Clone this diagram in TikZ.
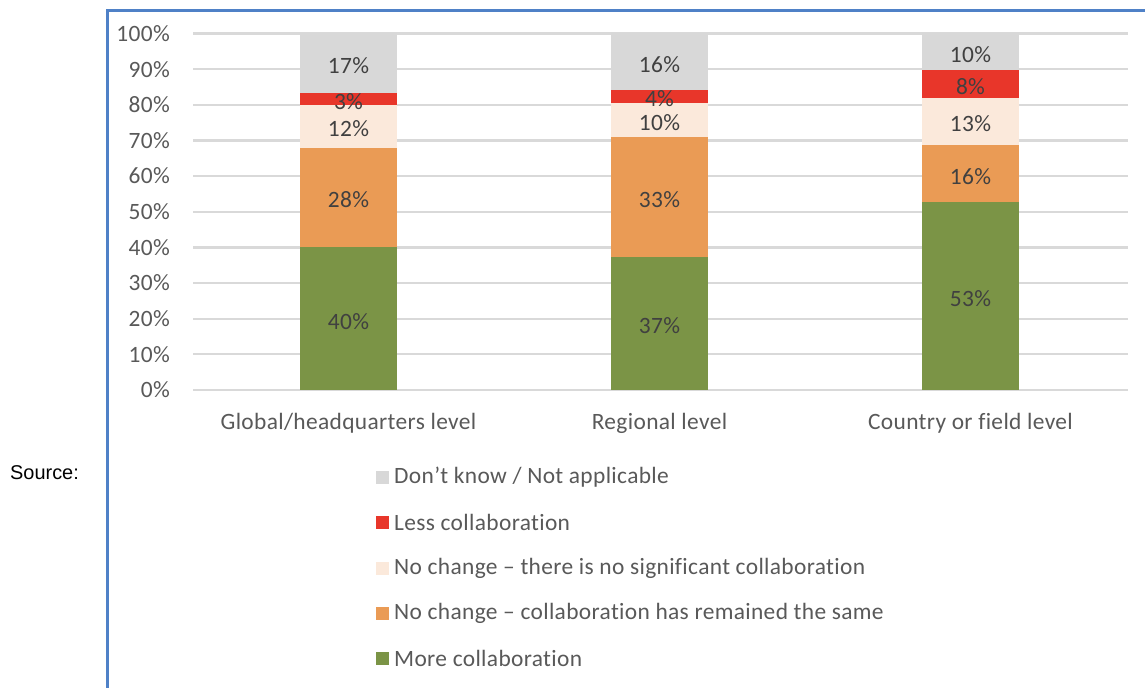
\documentclass[tikz,border=0pt]{standalone}
\usepackage{fontspec}
\setmainfont[Ligatures=NoCommon, LetterSpace=1.5]{Carlito}
\newfontfamily\arialfont{Liberation Sans}
\definecolor{framebl}{RGB}{79,129,199}
\definecolor{gridgr}{RGB}{217,217,217}
\definecolor{cgray}{RGB}{216,216,216}
\definecolor{cred}{RGB}{232,54,42}
\definecolor{ccream}{RGB}{251,233,219}
\definecolor{corange}{RGB}{234,155,85}
\definecolor{cgreen}{RGB}{123,148,70}
\definecolor{txtdark}{RGB}{64,64,64}
\definecolor{txtaxis}{RGB}{89,89,89}
\tikzset{
  gridline/.style={draw=gridgr, line width=2.2bp},
  seglab/.style={font=\fontsize{23.5}{25}\selectfont, text=txtdark, inner sep=0pt, yshift=-2.5bp},
  axlab/.style={font=\fontsize{23.5}{25}\selectfont, text=txtaxis, anchor=east, inner sep=0pt},
  catlab/.style={font=\fontsize{23.5}{25}\selectfont, text=txtaxis, inner sep=0pt},
  leglab/.style={font=\fontsize{23.5}{25}\selectfont, text=txtaxis, anchor=west, inner sep=0pt},
  legbox/.style={minimum size=13bp, inner sep=0pt, draw=none},
}
% y in pixels for a percentage
\newcommand\ypx[1]{390-3.565*#1}
% \mybarseg{center x}{from%}{to%}{colour}{label}{name}
\newcommand\mybarseg[6]{%
  \fill[#4] ({#1-48.5},{\ypx{#2}}) rectangle ({#1+48.5},{\ypx{#3}});
  \node[seglab] (#6) at (#1,{\ypx{(#2+#3)/2}}) {#5};
}
\begin{document}
\begin{tikzpicture}[x=1bp,y=-1bp]
\useasboundingbox (0,0) rectangle (1145,688);
\fill[white] (0,0) rectangle (1145,688);
% frame
\draw[framebl, line width=2.2bp] (1146,10.5) -- (107.5,10.5) -- (107.5,690);
% source
\node[font=\arialfont\fontsize{20}{22}\selectfont, anchor=west, inner sep=0pt] (src) at (10,473) {Source:};
% grid and axis labels
\foreach \p in {0,10,...,100}{
  \draw[gridline] (193,{\ypx{\p}}) -- (1128,{\ypx{\p}});
  \node[axlab] (ax\p) at (170,{\ypx{\p}}) {\p\%};
}
% bar 1
\mybarseg{348.5}{0}{40}{cgreen}{40\%}{a1}
\mybarseg{348.5}{40}{68}{corange}{28\%}{a2}
\mybarseg{348.5}{68}{80}{ccream}{12\%}{a3}
\mybarseg{348.5}{80}{83.3}{cred}{3\%}{a4}
\mybarseg{348.5}{83.3}{100}{cgray}{17\%}{a5}
% bar 2
\mybarseg{659.5}{0}{37.4}{cgreen}{37\%}{b1}
\mybarseg{659.5}{37.4}{71}{corange}{33\%}{b2}
\mybarseg{659.5}{71}{80.5}{ccream}{10\%}{b3}
\mybarseg{659.5}{80.5}{84.2}{cred}{4\%}{b4}
\mybarseg{659.5}{84.2}{100}{cgray}{16\%}{b5}
% bar 3
\mybarseg{970.5}{0}{52.7}{cgreen}{53\%}{c1}
\mybarseg{970.5}{52.7}{68.6}{corange}{16\%}{c2}
\mybarseg{970.5}{68.6}{82}{ccream}{13\%}{c3}
\mybarseg{970.5}{82}{89.8}{cred}{8\%}{c4}
\mybarseg{970.5}{89.8}{100}{cgray}{10\%}{c5}
% category labels
\node[catlab] (cat1) at (348.5,423) {Global/headquarters level};
\node[catlab] (cat2) at (659.5,423) {Regional level};
\node[catlab] (cat3) at (970.5,423) {Country or field level};
% legend
\node[legbox, fill=cgray] (lg1) at (382.5,477) {};
\node[leglab] (lt1) at (394,477) {Don’t know / Not applicable};
\node[legbox, fill=cred] (lg2) at (382.5,522.5) {};
\node[leglab] (lt2) at (394,522.5) {Less collaboration};
\node[legbox, fill=ccream] (lg3) at (382.5,568) {};
\node[leglab] (lt3) at (394,568) {No change – there is no significant collaboration};
\node[legbox, fill=corange] (lg4) at (382.5,613) {};
\node[leglab] (lt4) at (394,613) {No change – collaboration has remained the same};
\node[legbox, fill=cgreen] (lg5) at (382.5,658) {};
\node[leglab] (lt5) at (394,658) {More collaboration};
\end{tikzpicture}
\end{document}
